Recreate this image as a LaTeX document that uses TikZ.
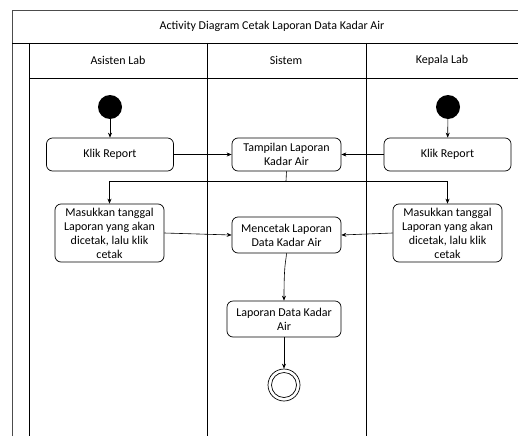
\documentclass[tikz,border=0pt]{standalone}
\usepackage{fontspec}
\setmainfont{Carlito}
\usetikzlibrary{arrows.meta}
\begin{document}
\begin{tikzpicture}[x=1pt,y=-1pt,
  act/.style={draw,rounded corners=6pt,line width=0.7pt,align=center,font=\fontsize{12}{14}\selectfont,inner sep=1pt},
  lane/.style={line width=0.8pt},
  arr/.style={-{Stealth[length=5pt,width=4pt]},line width=0.6pt},
  lbl/.style={font=\fontsize{12}{14}\selectfont}]
\useasboundingbox (0,0) rectangle (518,436);
% frame
\draw[lane,draw=black!70] (12,436) -- (12,10) -- (518,10);
\draw[lane] (12,43) -- (518,43);
\draw[lane] (29,78) -- (518,78);
\draw[lane] (29,43) -- (29,436);
\draw[lane] (207,43) -- (207,436);
\draw[lane] (366,43) -- (366,436);
\node[lbl] (title) at (272,26.5) {Activity Diagram Cetak Laporan Data Kadar Air};
\node[lbl] (h1) at (118,60.5) {Asisten Lab};
\node[lbl] (h2) at (286,60.5) {Sistem};
\node[lbl] (h3) at (442,60.5) {Kepala Lab};
% start nodes
\node[circle,fill=black,minimum size=24pt,inner sep=0pt] (s1) at (110,107) {};
\node[circle,fill=black,minimum size=24pt,inner sep=0pt] (s2) at (448,107) {};
% activities
\node[act,minimum width=127pt,minimum height=33pt] (k1) at (110,154.5) {Klik Report};
\node[act,minimum width=127pt,minimum height=33pt] (k2) at (447.5,154.5) {Klik Report};
\node[act,minimum width=109pt,minimum height=33pt] (tp) at (286.5,154.5) {Tampilan Laporan\\Kadar Air};
\node[act,minimum width=109pt,minimum height=58pt] (m1) at (109.5,233) {Masukkan tanggal\\Laporan yang akan\\dicetak, lalu klik\\cetak};
\node[act,minimum width=109pt,minimum height=58pt] (m2) at (447.5,233) {Masukkan tanggal\\Laporan yang akan\\dicetak, lalu klik\\cetak};
\node[act,minimum width=109pt,minimum height=36pt] (mc) at (286.5,235) {Mencetak Laporan\\Data Kadar Air};
\node[act,minimum width=114pt,minimum height=36pt] (ld) at (284,319) {Laporan Data Kadar\\Air};
\node[circle,draw,line width=0.7pt,minimum size=32pt,inner sep=0pt] (e) at (284,385) {};
\node[circle,draw,line width=0.7pt,minimum size=25pt,inner sep=0pt] (ei) at (284,385) {};
\coordinate (j) at (286,181);
% connectors
\draw[arr] (s1) -- (k1);
\draw[arr] (s2) -- (k2);
\draw[arr] (k1) -- (tp);
\draw[arr] (k2) -- (tp);
\draw[line width=0.6pt] (tp.south) -- (j);
\draw[arr] (j) -| (m1.north);
\draw[arr] (j) -| (m2.north);
\draw[arr] (m1.east) -- (mc.west);
\draw[arr] (m2.west) -- (mc.east);
\draw[arr] (mc.south) .. controls (286,262) and (284,262) .. (ld.north);
\draw[arr] (ld) -- (e);
\end{tikzpicture}
\end{document}
